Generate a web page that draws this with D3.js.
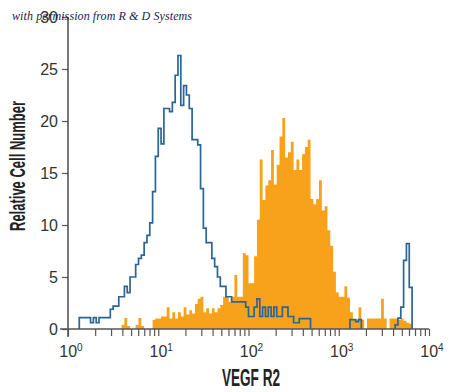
<!DOCTYPE html>
<html>
<head>
<meta charset="utf-8">
<script src="https://cdn.jsdelivr.net/npm/d3@7"></script>
<style>
  html, body { margin: 0; padding: 0; background: #fff; }
  svg { display: block; }
  .lab { font-family: 'Liberation Sans Narrow', 'Liberation Sans', Arial, sans-serif; }
</style>
</head>
<body>
<svg id="chart" width="450" height="392"></svg>
<script>
// ---- data (4 decades split into 128 log channels) ----
const decades = [0, 1, 2, 3, 4];
const yTicks = [0, 5, 10, 15, 20, 25, 30];
const channelCount = 128;

// isotype control (blue outline)
const isotypeCounts = [
  0, 0, 0, 0, 1.1, 1.1, 1.1, 1.1, 0.6, 1.1,
  0.6, 1.1, 1.1, 1.1, 1.1, 1.9, 2.2, 2.2, 3.1, 3.1,
  4.1, 3.5, 5.0, 5.0, 6.2, 6.8, 7.1, 8.3, 9.0, 10.2,
  13.2, 16.6, 19.3, 17.8, 21.2, 21.2, 20.9, 21.8, 24.4, 26.3,
  21.5, 23.4, 22.5, 21.2, 18.2, 18.2, 17.7, 13.5, 9.7, 8.3,
  8.3, 6.8, 6.0, 5.0, 4.1, 4.1, 3.1, 3.1, 2.6, 2.6,
  2.6, 2.6, 2.6, 2.1, 1.2, 1.2, 2.1, 2.9, 1.2, 2.1,
  1.2, 2.1, 1.2, 2.1, 1.2, 1.2, 2.1, 2.1, 1.2, 1.2,
  0.6, 0.6, 1.0, 1.0, 1.0, 1.0, 0, 0, 0, 0,
  0, 0, 0, 0, 0, 0, 0, 0, 0, 0,
  0.9, 0.9, 0.7, 0.9, 0, 0, 0, 0, 0, 0,
  0, 0, 0, 0, 0, 0, 0.4, 1.05, 2.1, 6.6,
  8.2, 4.0, 0, 0, 0, 0, 0, 0
];

// VEGF R2 stained (orange filled)
const vegfr2Counts = [
  0, 0, 0, 0, 0, 0, 0, 0, 0, 0,
  0, 0, 0, 0, 0, 0, 0, 0, 0, 0.4,
  1.05, 0.3, 0, 0, 0.4, 1.05, 0.3, 0, 0, 0,
  0.9, 1.0, 1.0, 1.2, 1.2, 2.1, 1.0, 1.6, 1.0, 1.6,
  1.2, 2.1, 1.4, 1.8, 1.5, 2.4, 2.9, 3.1, 1.6, 2.0,
  1.5, 2.0, 1.6, 2.0, 2.3, 3.1, 3.1, 2.6, 3.1, 5.2,
  3.1, 3.1, 7.3, 7.1, 4.4, 4.4, 7.0, 10.5, 16.3, 12.4,
  13.8, 14.3, 17.2, 13.9, 15.8, 18.5, 20.3, 16.5, 17.0, 18.0,
  15.3, 16.3, 15.3, 16.8, 17.5, 18.2, 12.5, 12.0, 12.5, 14.3,
  11.4, 11.8, 9.5, 8.0, 5.5, 3.5, 3.1, 3.1, 4.1, 3.0,
  1.6, 0.9, 0.9, 2.1, 0.9, 0, 1.0, 1.0, 1.0, 1.0,
  1.0, 2.9, 1.0, 0, 1.0, 1.0, 1.0, 0.9, 1.0, 0.8,
  0.6, 0.5, 0, 0, 0, 0, 0, 0
];

const xTitle = "VEGF R2";
const yTitle = "Relative Cell Number";
const credit = "with permission from R & D Systems";

// ---- drawing ----
const svg = d3.select("#chart");
const x = d3.scaleLog().domain([1, 1e4]).range([68, 429]);
const y = d3.scaleLinear().domain([0, 30]).range([329, 17]);
const edge = i => Math.pow(10, 4 * i / channelCount);

// orange filled histogram
const orangePts = vegfr2Counts.map((v, i) => ({ e: edge(i), v }));
orangePts.push({ e: edge(channelCount), v: 0 });
svg.append("path")
  .datum(orangePts)
  .attr("fill", "#f8a21c")
  .attr("d", d3.area().curve(d3.curveStepAfter)
    .x(d => x(d.e)).y0(y(0)).y1(d => y(d.v)));

// blue outline histogram, split into non-zero runs
const runs = [];
let cur = null;
isotypeCounts.forEach((v, i) => {
  if (v > 0) {
    if (!cur) { cur = [{ e: edge(i), v: 0 }]; runs.push(cur); }
    cur.push({ e: edge(i), v });
  } else if (cur) {
    cur.push({ e: edge(i), v: 0 });
    cur = null;
  }
});
if (cur) cur.push({ e: edge(channelCount), v: 0 });
const blueLine = d3.line().curve(d3.curveStepAfter).x(d => x(d.e)).y(d => y(d.v));
svg.append("g").selectAll("path").data(runs).join("path")
  .attr("fill", "none")
  .attr("stroke", "#2b6496")
  .attr("stroke-width", 1.7)
  .attr("stroke-linejoin", "miter")
  .attr("d", blueLine);

// axes
const axisColor = "#555";
const minorTicks = [];
decades.slice(0, -1).forEach(dc => { for (let k = 1; k < 10; k++) minorTicks.push(k * Math.pow(10, dc)); });
minorTicks.push(1e4);

const xAxis = svg.append("g")
  .attr("transform", `translate(0,${y(0)})`)
  .call(d3.axisBottom(x).tickValues(minorTicks).tickSize(7).tickSizeOuter(0).tickFormat(() => ""));
xAxis.select(".domain").remove();
xAxis.selectAll(".tick line").attr("stroke", axisColor).attr("stroke-width", 1.2);

svg.append("line")
  .attr("x1", 60).attr("x2", x(1e4))
  .attr("y1", y(0)).attr("y2", y(0))
  .attr("stroke", axisColor).attr("stroke-width", 1.6);

const yAxis = svg.append("g")
  .attr("transform", `translate(${x(1)},0)`)
  .call(d3.axisLeft(y).tickValues(yTicks).tickSize(6).tickSizeOuter(0).tickPadding(4));
yAxis.select(".domain").remove();
yAxis.selectAll(".tick line").attr("stroke", axisColor).attr("stroke-width", 1.2);
yAxis.selectAll(".tick text")
  .attr("class", "lab")
  .attr("font-size", 16).attr("fill", "#333")
  .attr("font-family", null);

svg.append("line")
  .attr("x1", x(1)).attr("x2", x(1))
  .attr("y1", y(30)).attr("y2", y(0) + 8)
  .attr("stroke", axisColor).attr("stroke-width", 1.6);

// x decade labels 10^n
const xl = svg.append("g").attr("class", "lab").attr("fill", "#333");
decades.forEach(dc => {
  const t = xl.append("text")
    .attr("x", x(Math.pow(10, dc)) + 3)
    .attr("y", 357)
    .attr("text-anchor", "middle")
    .attr("font-size", 16);
  t.append("tspan").text("10");
  t.append("tspan").attr("font-size", 10).attr("dy", -6).text(String(dc));
});

// titles
svg.append("text").attr("class", "lab")
  .attr("x", 251).attr("y", 386)
  .attr("text-anchor", "middle")
  .attr("font-weight", "bold").attr("font-size", 23).attr("fill", "#222")
  .attr("textLength", 58).attr("lengthAdjust", "spacingAndGlyphs")
  .text(xTitle);

svg.append("text").attr("class", "lab")
  .attr("transform", "translate(25,166) rotate(-90)")
  .attr("text-anchor", "middle")
  .attr("font-weight", "bold").attr("font-size", 22).attr("fill", "#222")
  .attr("textLength", 130).attr("lengthAdjust", "spacingAndGlyphs")
  .text(yTitle);

// credit line
svg.append("text")
  .attr("x", 12).attr("y", 20)
  .attr("font-family", "'Liberation Serif', 'DejaVu Serif', serif")
  .attr("font-style", "italic")
  .attr("font-size", 12)
  .attr("fill", "#1c1c50")
  .attr("textLength", 180).attr("lengthAdjust", "spacing")
  .text(credit);
</script>
</body>
</html>
